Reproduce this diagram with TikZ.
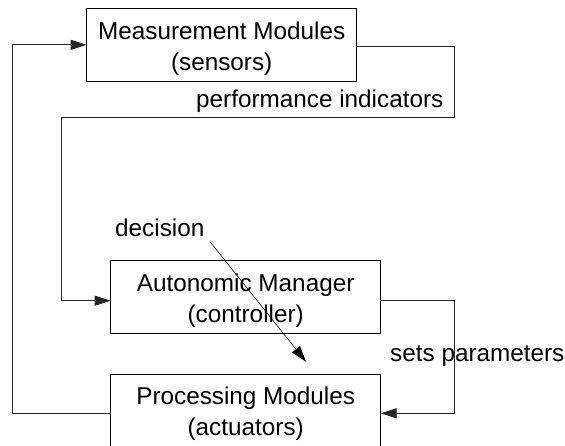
\documentclass[tikz,border=0pt]{standalone}
\usepackage{fontspec}
\setmainfont{Liberation Sans}
\usetikzlibrary{arrows.meta}
\begin{document}
\begin{tikzpicture}[x=1pt,y=-1pt,
  box/.style={draw=black, line width=0.9pt, minimum width=270pt, minimum height=72.6pt, inner sep=0pt, outer sep=0pt},
  txt/.style={font=\fontsize{24.3}{31}\selectfont, align=center, inner sep=0pt},
  lbl/.style={font=\fontsize{24.3}{31}\selectfont, inner sep=0pt, anchor=base west},
  conn/.style={draw=black!85, line width=0.9pt, -{Triangle[length=16pt,width=10pt]}},
  darr/.style={draw=black, line width=0.6pt, -{Triangle[length=16pt,width=10pt]}},
]
\useasboundingbox (0,0) rectangle (565,446);
% boxes
\node[box] (meas) at (221.7,44.8) {};
\node[box] (auto) at (245.7,297) {};
\node[box] (proc) at (245.7,410.6) {};
% box texts
\node[txt] (measT) at ([yshift=-3.5pt]meas.center) {Measurement Modules\\(sensors)};
\node[txt] (autoT) at ([yshift=-3.9pt]auto.center) {Autonomic Manager\\(controller)};
\node[txt] (procT) at ([yshift=-3.6pt]proc.center) {Processing Modules\\(actuators)};
% labels
\node[lbl] (perf) at (196,107.3) {performance indicators};
\node[lbl] (sets) at (390,361.7) {sets parameters};
\node[lbl] (dec) at (115,236.5) {decision};
% connectors
\draw[conn] ([yshift=-2.7pt]proc.west) -- (12.7,413.3) |- (meas.west);
\draw[conn] ([yshift=-1.5pt]meas.east) -- (454.3,46.3) -- (454.3,117.3) -- (61.7,117.3) |- ([yshift=-3.7pt]auto.west);
\draw[conn] ([yshift=-3.7pt]auto.east) -- (454.3,300.7) |- ([yshift=-2.7pt]proc.east);
% decision arrow
\coordinate (decS) at (210,241.7);
\coordinate (decE) at (306,361.7);
\draw[darr] (decS) -- (decE);
\end{tikzpicture}
\end{document}
